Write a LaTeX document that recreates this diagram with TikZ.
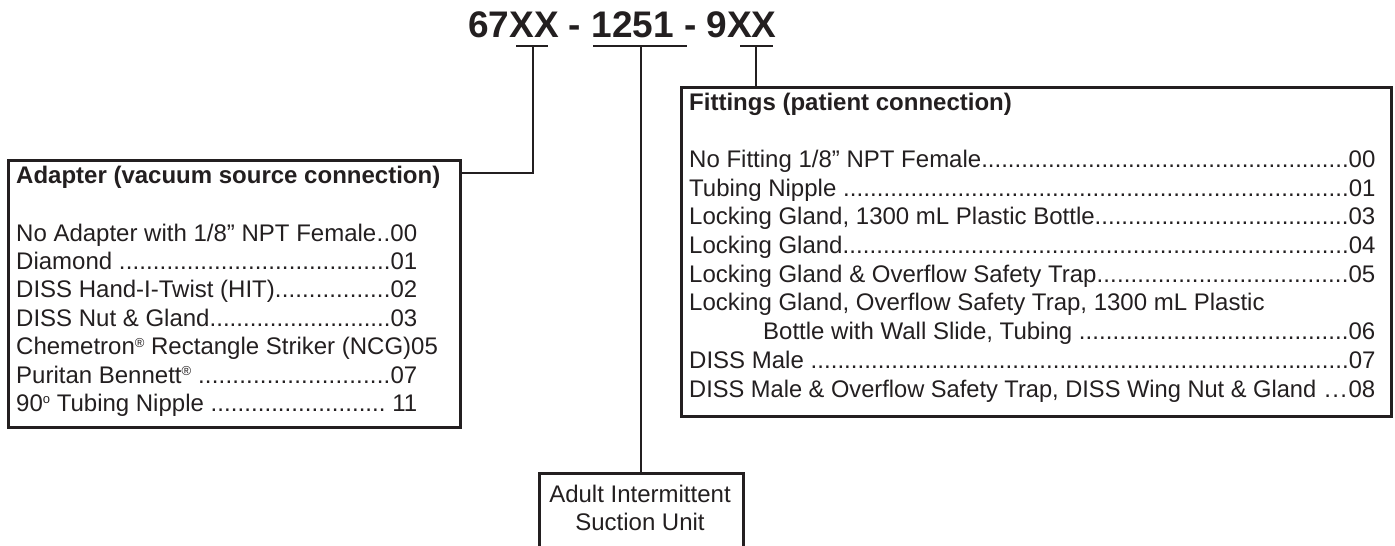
\documentclass[tikz,border=0pt]{standalone}
\usepackage{fontspec}
\setmainfont{Liberation Sans}
\definecolor{ink}{HTML}{231F20}
\newcommand{\dotlead}{\xleaders\hbox to 0.278em{\hss.\hss}\hfill}
\newcommand{\lrow}[2]{\hbox to 401pt{#1\dotlead#2}}
\newcommand{\rrow}[2]{\hbox to 686pt{#1\dotlead#2}}
\newcommand{\regmark}{\raisebox{7.5pt}{\fontsize{13}{13}\selectfont ®}}
\newcommand{\degmark}{\raisebox{8pt}{\fontsize{13}{13}\selectfont o}}
\begin{document}
\begin{tikzpicture}[x=1pt,y=-1pt,
  frame/.style={draw=ink, line width=2.6pt, inner sep=0pt, rectangle},
  conn/.style={draw=ink, line width=2.6pt},
  uline/.style={draw=ink, line width=2.8pt},
  row/.style={anchor=base west, inner sep=0pt, text=ink, font=\fontsize{24}{28}\selectfont},
  head/.style={anchor=base west, inner sep=0pt, text=ink, font=\bfseries\fontsize{24}{28}\selectfont},
  ctext/.style={anchor=base, inner sep=0pt, text=ink, font=\fontsize{24}{28}\selectfont}]
\useasboundingbox (0,0) rectangle (1395,546);
\clip (0,0) rectangle (1395,546);
% title
\node[anchor=base west, inner sep=0pt, text=ink, font=\bfseries\fontsize{37}{40}\selectfont] (title) at (468,37) {67XX - 1251 - 9XX};
\coordinate (u1) at (533,46);
\coordinate (u2) at (641,46);
\coordinate (u3) at (756,46);
\draw[uline] (516,46) -- (548,46);
\draw[uline] (593,46) -- (687,46);
\draw[uline] (740,46) -- (773,46);
% boxes
\node[frame, minimum width=452pt, minimum height=267pt, anchor=north west] (adapter) at (7,159) {};
\node[frame, minimum width=710pt, minimum height=329pt, anchor=north west] (fit) at (680,86) {};
\node[frame, minimum width=204pt, minimum height=100pt, anchor=north west] (unit) at (538,472) {};
% connectors
\draw[conn] (u1) |- ([yshift=-14pt]adapter.north east);
\draw[conn] (u2) -- (u2 |- unit.north);
\draw[conn] (u3) -- (u3 |- fit.north);
% adapter box text
\node[head] (lh) at (16,183) {Adapter (vacuum source connection)};
\node[row] (l1) at (16,241) {\lrow{No Adapter with 1/8” NPT Female}{00}};
\node[row] (l2) at (16,269.4) {\lrow{Diamond }{01}};
\node[row] (l3) at (16,297.8) {\lrow{DISS Hand-I-Twist (HIT)}{02}};
\node[row] (l4) at (16,326.2) {\lrow{DISS Nut \& Gland}{03}};
\node[row] (l5) at (16,354.6) {Chemetron\regmark{} Rectangle Striker (NCG)05};
\node[row] (l6) at (16,383) {\lrow{Puritan Bennett\regmark{} }{07}};
\node[row] (l7) at (16,411.4) {\lrow{90\degmark{} Tubing Nipple }{ 11}};
% fittings box text
\node[head] (rh) at (689,110) {Fittings (patient connection)};
\node[row] (r1) at (689,167.4) {\rrow{No Fitting 1/8” NPT Female}{00}};
\node[row] (r2) at (689,196.1) {\rrow{Tubing Nipple }{01}};
\node[row] (r3) at (689,224.8) {\rrow{Locking Gland, 1300 mL Plastic Bottle}{03}};
\node[row] (r4) at (689,253.5) {\rrow{Locking Gland}{04}};
\node[row] (r5) at (689,282.2) {\rrow{Locking Gland \& Overflow Safety Trap}{05}};
\node[row] (r6) at (689,310.9) {Locking Gland, Overflow Safety Trap, 1300 mL Plastic};
\node[row] (r6b) at (689,339.6) {\rrow{\hspace{74pt}Bottle with Wall Slide, Tubing }{06}};
\node[row] (r7) at (689,368.3) {\rrow{DISS Male }{07}};
\node[row] (r8) at (689,397) {\rrow{\scalebox{0.985}[1]{DISS Male \& Overflow Safety Trap, DISS Wing Nut \& Gland} }{08}};
% unit text
\node[ctext] (ut1) at (640,502) {Adult Intermittent};
\node[ctext] (ut2) at (640,530) {Suction Unit};
\end{tikzpicture}
\end{document}
